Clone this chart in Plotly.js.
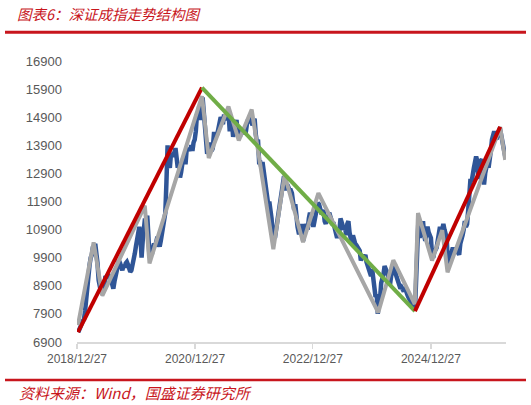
<!DOCTYPE html>
<html>
<head>
<meta charset="utf-8">
<script src="https://cdn.plot.ly/plotly-3.0.1.min.js"></script>
<style>html,body{margin:0;padding:0;background:#fff;}#chart{width:531px;height:405px;}</style>
</head>
<body>
<div id="chart"></div>
<script>
// ---- Data ----
// Weekly (Friday) closes of 深证成指, first week 2019-01-04
const blueStart = '2019-01-04';
const blue2019 = [7250,7400,7500,7550, 7650,7700,8000,8500, 8950,9400,9650,9900,10000, 10300,10150,10400,9750,
  9700,9100,8850,8700,8650, 8700,8850,9250,9150, 9300,9150,9250,9300, 8950,8800,9050,9250,9300,
  9650,9800,9700,9500, 9450,9650,9550,9700, 9750,9650,9500,9400,9450, 9600,9900,10050,10300];
const blue2020 = [10550,10650,11000,10650,9900, 10500,10900,11300,10900, 11400,10700,9900,10200, 10000,10250,10400,10300,
  10600,10650,10400,10300,10500, 10750,10950,11250,11500, 12600,13900,13200,13100,13600, 13500,13600,13600,13800,
  13500,13100,13300,12750, 12950,13300,13500,13300,13300, 13800,13700,13800,13700, 13900,13700,14000,14100];
const blue2021 = [14400,15000,14900,15300,14800, 15100,15600,15100,14400, 14100,13600,13700,13800, 14000,13700,13800,14300,14300,
  14250,14300,14500,14900, 14900,14800,14650,15000, 14800,14900,15100,15000,14400, 14800,14700,14200,14500,
  14600,14800,14300,14200, 14200,14400,14400,14500,14400, 14300,14600,14800,14700, 14900,15000,14600,14700,14850];
const blue2022 = [14300,14000,14100,13300, 13300,13100,13300,13000, 12700,12200,12100,11800, 11900,11700,11300,10700,10600,
  10600,10900,11200,11200, 11500,11900,12200,12500, 12800,12700,12300,12500,12300, 12300,12300,12200,11900,
  11600,11800,11300,11000,10800, 10800,11100,10900,10500, 10800,11100,11000,10900, 11300,11500,11300,11000,11000];
const blue2023 = [11200,11500,11800,11850, 11800,11600,11500,11500, 11600,11200,11100,11400,11300, 11500,11300,11100,11100,
  11100,10950,10900,10600, 10800,10850,11300,11100,11000, 10900,11000,10700,11100, 11200,10800,10500,10400,
  10700,10500,10400,10350,10300, 10250,10150,9800,10000, 10000,9900,10000,9750, 9650,9550,9350,9250,9500];
const blue2024 = [9100,8900,8500,8600, 7900,8400,8450,9000, 9100,9300,9600,9500,9400, 9300,9000,9000,9300,
  9350,9500,9700,9300,9200, 9000,8900,8800,8850, 8800,8700,8850,8650, 8600,8500,8400,8350,8350,
  8200,8050,8150,9500, 10500,11300,10600,10900, 10700,11200,10700,10500,10800, 11000,10800,10700,10600];
const blue2025 = [10000,9900,10100,10200,10250, 10500,10900,11000,10700, 11000,11100,10900,10800, 10600,9600,9800,10000,
  10000,10200,10200,10100,10050, 10200,10100,10000,10400, 10500,10700,10900,11200, 11000,11100,11600,12150,12700,
  12600,13000,13100,13300, 13500,13350,12700,13300,13400, 13400,13200,12500,12900, 13100,13300,13100,13600];
const blue2026 = [13700,14100,14300,14400,14200, 14100,14300,14400,14500, 14300,14100,13900,13600, 13450];

// Zigzag structure (grey)
const zigDates = ['2019-01-02','2019-04-09','2019-06-02','2020-02-20','2020-03-20','2021-02-08','2021-03-22',
  '2021-07-22','2021-09-24','2021-12-13','2022-04-26','2022-07-05','2022-10-27','2023-01-30','2024-02-05',
  '2024-05-08','2024-09-18','2024-10-08','2025-01-03','2025-03-07','2025-04-09','2026-03-01','2026-04-01'];
const zigValues = [7500,10450,8550,11750,9700,15650,13450,15280,14070,15170,10200,12850,10450,12200,7950,
  9810,8250,11490,9800,10880,9380,14550,13380];

// Trend lines
const up1Dates = ['2019-01-02','2021-02-08'];   const up1Values = [7250,15950];
const downDates = ['2021-02-08','2024-09-19'];  const downValues = [15950,8000];
const up2Dates = ['2024-09-19','2026-03-01'];   const up2Values = [8000,14560];

const yTicks = [6900,7900,8900,9900,10900,11900,12900,13900,14900,15900,16900];
const xTickVals = ['2018-12-27','2020-12-27','2022-12-27','2024-12-27'];
const xTickText = ['2018/12/27','2020/12/27','2022/12/27','2024/12/27'];

const titleText = '图表6：深证成指走势结构图';
const sourceText = '资料来源：Wind，国盛证券研究所';

// ---- Build weekly date axis ----
const blueValues = [].concat(blue2019,blue2020,blue2021,blue2022,blue2023,blue2024,blue2025,blue2026);
const blueDates = [];
const d0 = new Date(blueStart + 'T00:00:00Z');
for (let i = 0; i < blueValues.length; i++) {
  const d = new Date(d0.getTime() + i*7*86400000);
  blueDates.push(d.toISOString().slice(0,10));
}

// ---- Layout helpers (pixel -> paper) ----
const M = {l:77, r:25, t:61, b:63};
const W = 531 - M.l - M.r, H = 405 - M.t - M.b;
const px = x => (x - M.l)/W;
const py = y => (405 - M.b - y)/H;

const RED = '#c8161d';
const traces = [
  {x: blueDates, y: blueValues, type:'scatter', mode:'lines', line:{color:'#2f5597', width:4.5}, hoverinfo:'skip'},
  {x: zigDates, y: zigValues, type:'scatter', mode:'lines', line:{color:'#a6a6a6', width:4}, hoverinfo:'skip'},
  {x: up1Dates, y: up1Values, type:'scatter', mode:'lines', line:{color:'#c00000', width:4}, hoverinfo:'skip'},
  {x: downDates, y: downValues, type:'scatter', mode:'lines', line:{color:'#70ad47', width:4}, hoverinfo:'skip'},
  {x: up2Dates, y: up2Values, type:'scatter', mode:'lines', line:{color:'#c00000', width:4}, hoverinfo:'skip'}
];

const layout = {
  width:531, height:405, margin:M, showlegend:false,
  paper_bgcolor:'#ffffff', plot_bgcolor:'#ffffff',
  font:{family:'"Liberation Sans", Arial, sans-serif', color:'#595959'},
  xaxis:{type:'date', range:['2018-12-27','2026-04-06'], tickmode:'array', tickvals:xTickVals, ticktext:xTickText,
    showgrid:false, zeroline:false, showline:true, linecolor:'#d9d9d9', linewidth:1.5,
    ticks:'outside', ticklen:5, tickcolor:'#d9d9d9', tickwidth:1.2,
    tickfont:{size:12, color:'#595959'}},
  yaxis:{range:[6900,16900], tickmode:'array', tickvals:yTicks, tickformat:'d', showgrid:false, zeroline:false, showline:false,
    ticks:'', tickfont:{size:13, color:'#595959'}, ticklabelstandoff:14},
  shapes:[
    {type:'line', xref:'paper', yref:'paper', x0:px(5), x1:px(526), y0:py(32.3), y1:py(32.3), line:{color:RED, width:3}},
    {type:'line', xref:'paper', yref:'paper', x0:px(5), x1:px(526), y0:py(380), y1:py(380), line:{color:RED, width:2.5}}
  ],
  annotations:[
    {xref:'paper', yref:'paper', x:px(15), y:py(13.5), xanchor:'left', yanchor:'middle', showarrow:false,
      text:titleText, font:{family:'"Noto Sans CJK SC", sans-serif', size:14.5, color:RED, style:'italic'}},
    {xref:'paper', yref:'paper', x:px(17), y:py(392), xanchor:'left', yanchor:'middle', showarrow:false,
      text:sourceText, font:{family:'"Noto Sans CJK SC", sans-serif', size:15, color:RED, style:'italic'}}
  ]
};

Plotly.newPlot('chart', traces, layout, {staticPlot:true, displayModeBar:false});
</script>
</body>
</html>
